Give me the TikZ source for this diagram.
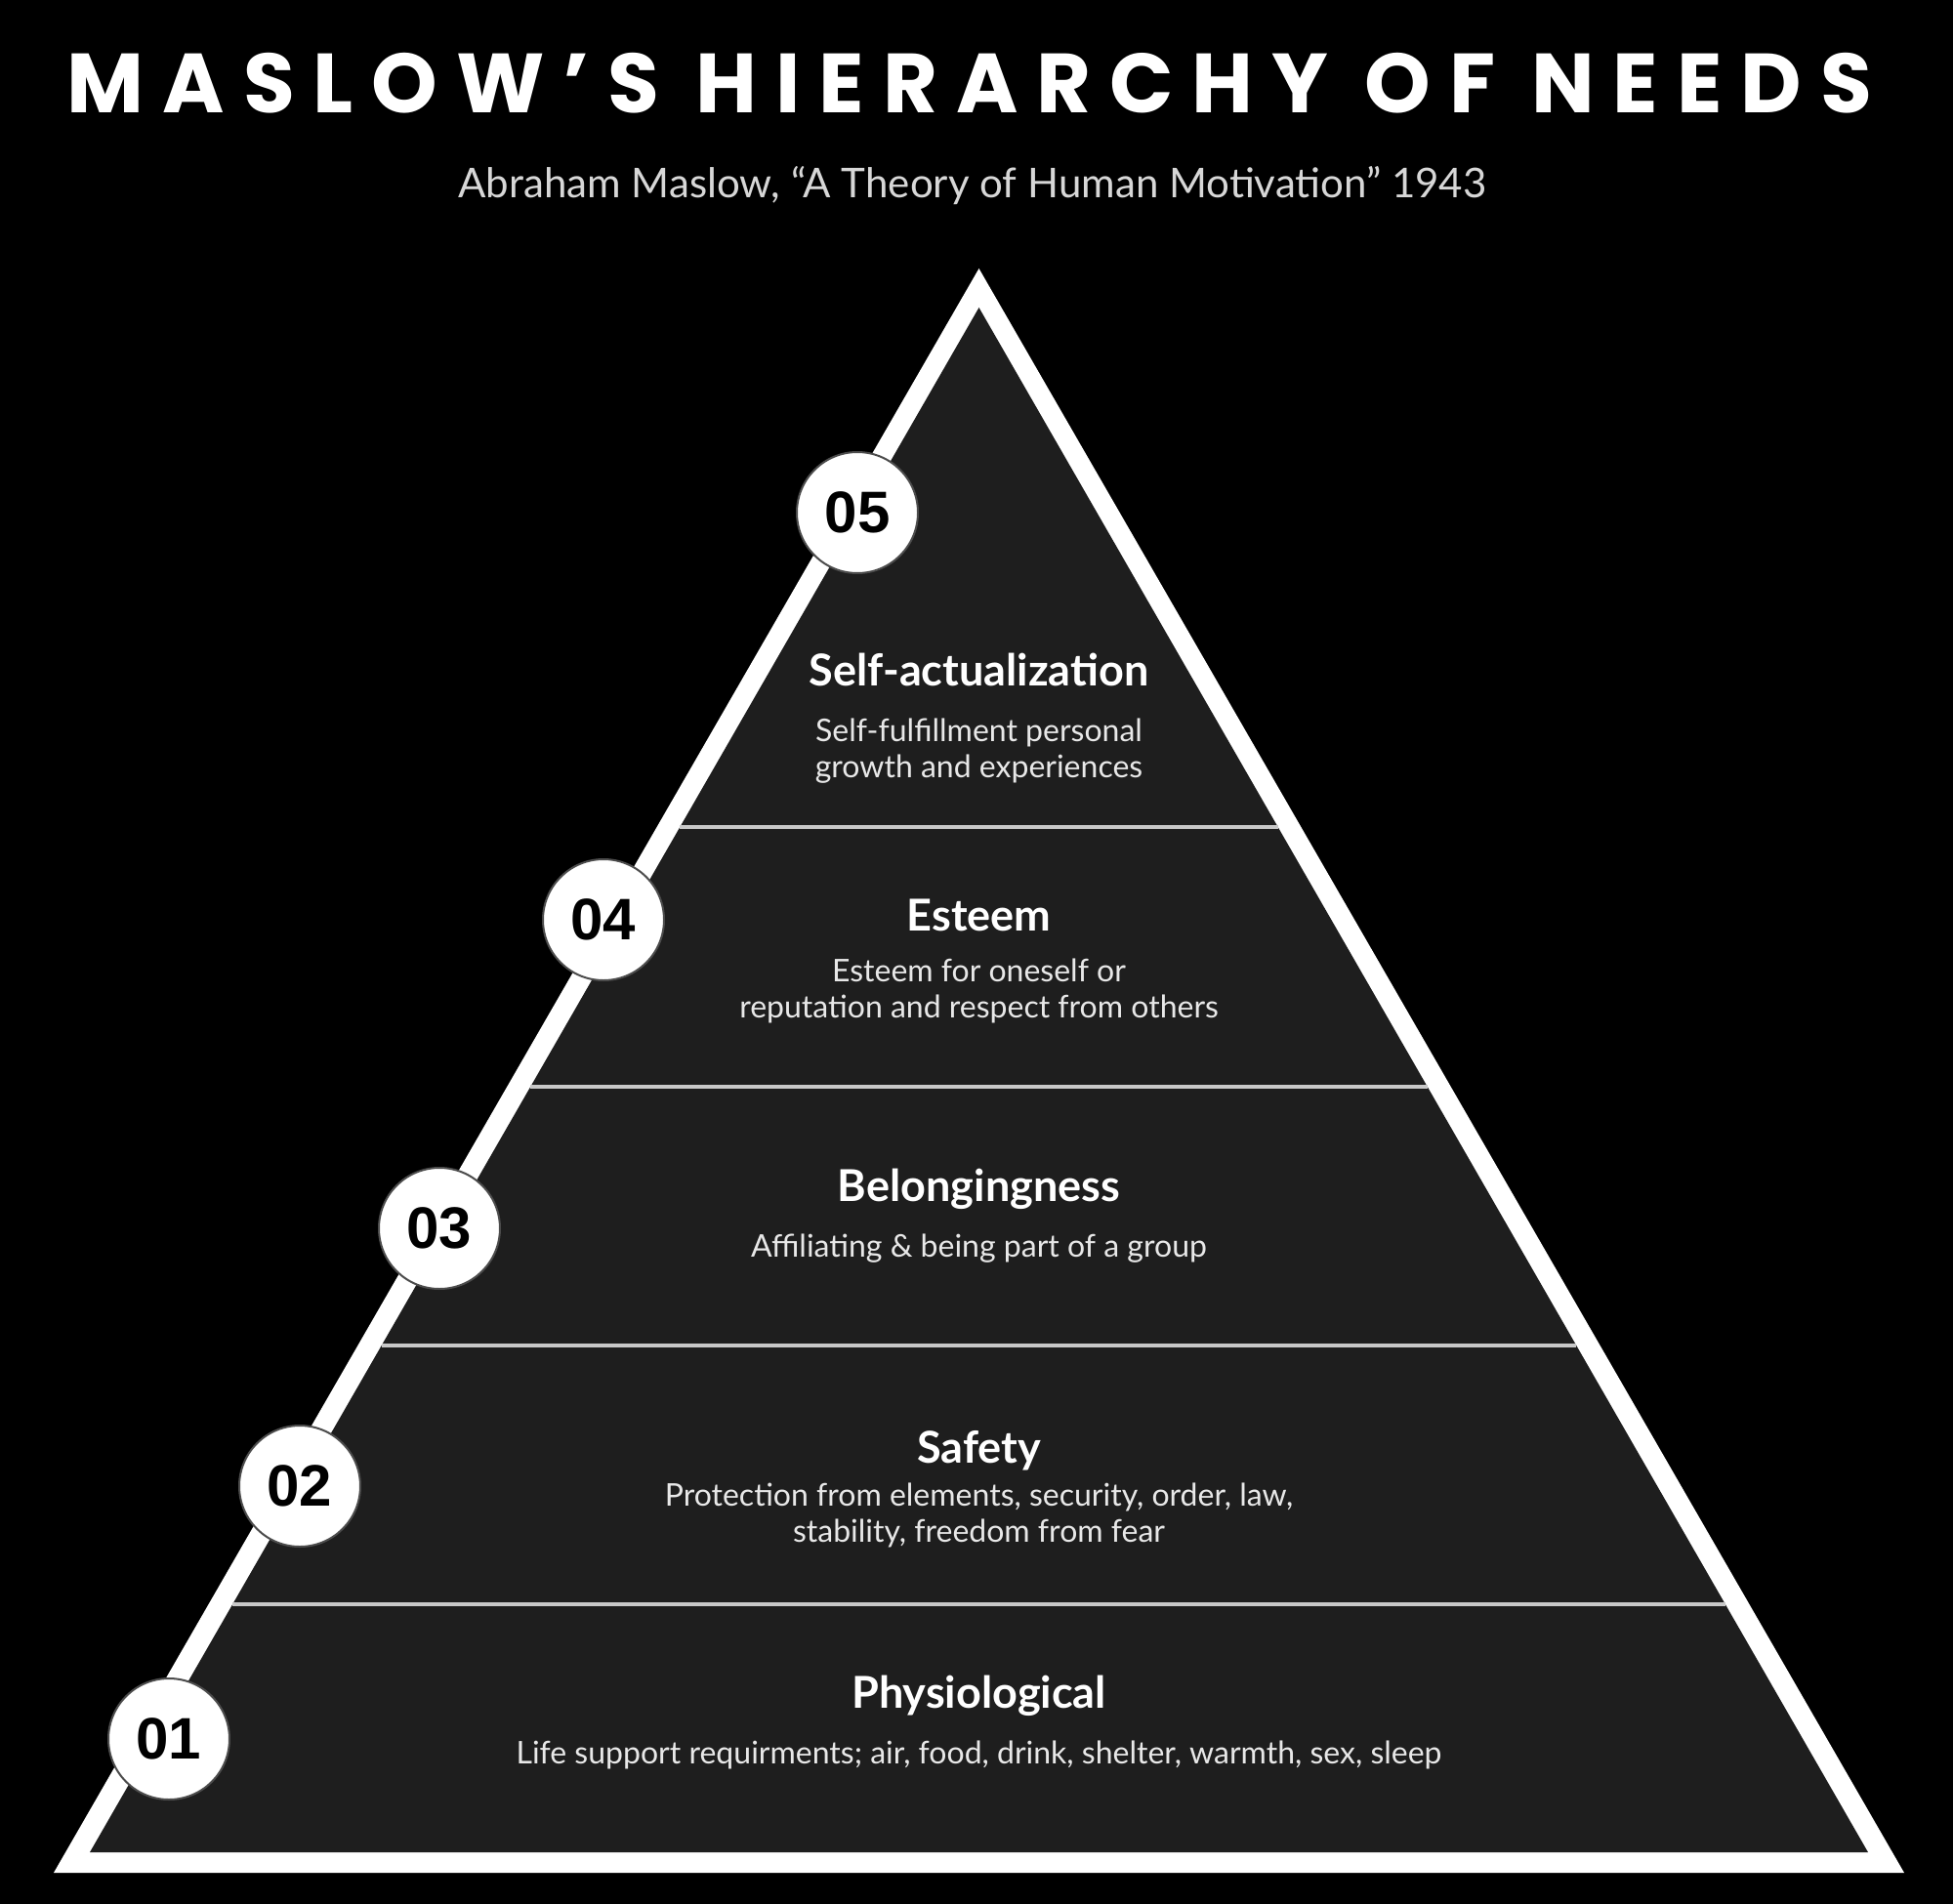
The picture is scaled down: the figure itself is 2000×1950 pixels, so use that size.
\documentclass[tikz,border=0pt]{standalone}
\usepackage{fontspec}
\usepackage{xcolor}
\usepackage{tikz}
\usetikzlibrary{positioning, calc}
\setmainfont{Lato}
\newfontfamily\titlefont[LetterSpace=22]{Poppins}
\newfontfamily\numfont{Liberation Sans}
\definecolor{pyrfill}{RGB}{30,30,30}
\definecolor{softwhite}{RGB}{232,232,232}
\definecolor{subgray}{RGB}{215,215,215}
\definecolor{divgray}{RGB}{200,200,200}

\begin{document}
\begin{tikzpicture}[x=1pt, y=-1pt,
    levelhead/.style={anchor=base, text=white, font=\fontsize{45}{54}\selectfont\bfseries},
    leveltext/.style={anchor=base, text=softwhite, align=center, font=\fontsize{32}{37}\selectfont},
    numcirc/.style={circle, fill=white, draw=black!70, line width=2pt, minimum size=124pt, inner sep=0pt,
        text=black, font=\numfont\fontsize{60}{60}\selectfont\bfseries}]
        \fill[black] (0,0) rectangle (2000,1950);
        \useasboundingbox (0,0) rectangle (2000,1950);

        \node[anchor=base, text=white, font=\titlefont\fontsize{86}{92}\selectfont\bfseries] (title) at (993,116) {MASLOW’S HIERARCHY OF NEEDS};
        \node[anchor=base, text=subgray, font=\fontsize{42}{46}\selectfont] (subtitle) at (996,203) {Abraham Maslow, “A Theory of Human Motivation” 1943};

        % pyramid: white frame, dark inside
        \coordinate (apo) at (1002.5,275);
        \coordinate (blo) at (55,1918);
        \coordinate (bro) at (1950,1918);
        \coordinate (api) at (1002.5,315);
        \coordinate (bli) at (92,1897);
        \coordinate (bri) at (1913,1897);
        \fill[white] (apo) -- (blo) -- (bro) -- cycle;
        \fill[pyrfill] (api) -- (bli) -- (bri) -- cycle;

        \foreach \y in {847,1113,1378,1643}
            \draw[divgray, line width=4pt] ($(api)!{(\y-315)/1582}!(bli)$) -- ($(api)!{(\y-315)/1582}!(bri)$);

        % base anchor of a two-line node sits on its last line
        \node[levelhead] (head5) at (1002.5,702) {Self-actualization};
        \node[leveltext] (txt5) at (1002.5,796) {Self-fulfillment personal\\growth and experiences};
        \node[levelhead] (head4) at (1002.5,953) {Esteem};
        \node[leveltext] (txt4) at (1002.5,1042) {Esteem for oneself or\\reputation and respect from others};
        \node[levelhead] (head3) at (1002.5,1230) {Belongingness};
        \node[leveltext] (txt3) at (1002.5,1287) {Affiliating \& being part of a group};
        \node[levelhead] (head2) at (1002.5,1498) {Safety};
        \node[leveltext] (txt2) at (1002.5,1579) {Protection from elements, security, order, law,\\stability, freedom from fear};
        \node[levelhead] (head1) at (1002.5,1749) {Physiological};
        \node[leveltext] (txt1) at (1002.5,1806) {Life support requirments; air, food, drink, shelter, warmth, sex, sleep};

        \node[numcirc] (num5) at (878,525) {05};
        \node[numcirc] (num4) at (618,942) {04};
        \node[numcirc] (num3) at (450,1258) {03};
        \node[numcirc] (num2) at (307,1522) {02};
        \node[numcirc] (num1) at (173,1781) {01};
\end{tikzpicture}
\end{document}
